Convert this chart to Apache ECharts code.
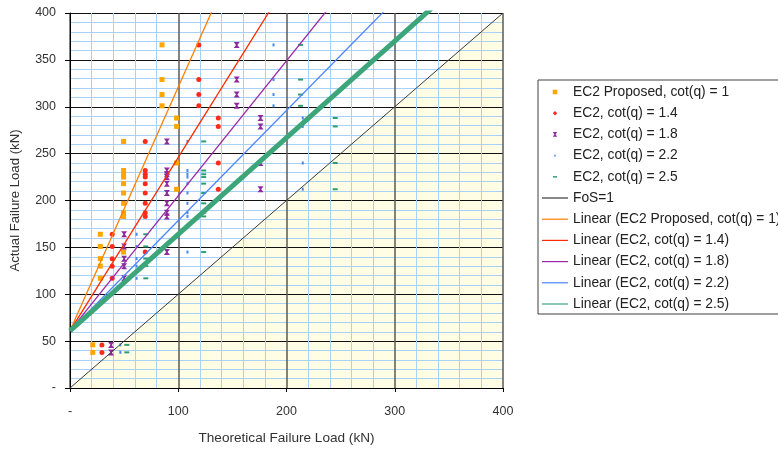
<!DOCTYPE html>
<html>
<head>
<meta charset="utf-8">
<script src="https://cdn.jsdelivr.net/npm/echarts@6/dist/echarts.min.js"></script>
<style>
  html, body { margin: 0; padding: 0; background: #fff; }
  #chart { width: 778px; height: 450px; }
</style>
</head>
<body>
<div id="chart"></div>
<script>
// Measured failure load of each specimen (kN)
const actualLoad = [366, 329, 313, 301, 288, 279, 263, 240, 232, 228, 225, 218, 212,
                    208, 197, 187, 183, 164, 151, 145, 138, 130, 117, 46, 38];

// Predicted failure load of each specimen for the strut angles checked (kN)
const theoryCot10 = [85, 85, 85, 85, 98.5, 98.5, 49.5, 98.5, 49.5, 49.5, 49.5, 49.5, 98.5,
                     49.5, 49.5, 49.5, 49.5, 28, 28, 49.5, 28, 28, 28, 21, 21];
const theoryCot14 = [119, 119, 119, 119, 137, 137, 69.5, 137, 69.5, 69.5, 69.5, 69.5, 137,
                     69.5, 69.5, 69.5, 69.5, 39, 39, 69.5, 39, 39, 39, 29.5, 29.5];
const theoryCot18 = [154, 154, 154, 154, 176, 176, 89.5, 176, 89.5, 89.5, 89.5, 89.5, 176,
                     89.5, 89.5, 89.5, 89.5, 50, 50, 89.5, 50, 50, 50, 38, 38];
const theoryCot22 = [188, 188, 188, 188, 215, 215, 108.5, 215, 108.5, 108.5, 108.5, 108.5, 215,
                     108.5, 108.5, 108.5, 108.5, 61.5, 61.5, 108.5, 61.5, 61.5, 61.5, 46.5, 46.5];
const theoryCot25 = [213, 213, 213, 213, 245, 245, 123.5, 245, 123.5, 123.5, 123.5, 123.5, 245,
                     123.5, 123.5, 123.5, 123.5, 70, 70, 123.5, 70, 70, 70, 52.5, 52.5];

// Linear trend lines (slope, common intercept in kN)
const trendSlopes = [2.6, 1.85, 1.44, 1.175, 1.03];
const trendIntercept = 61;

// Series names as shown in the legend
const scatterNames = ['EC2 Proposed, cot(q) = 1', 'EC2, cot(q) = 1.4', 'EC2, cot(q) = 1.8',
                      'EC2, cot(q) = 2.2', 'EC2, cot(q) = 2.5'];
const trendNames = ['Linear (EC2 Proposed, cot(q) = 1)', 'Linear (EC2, cot(q) = 1.4)',
                    'Linear (EC2, cot(q) = 1.8)', 'Linear (EC2, cot(q) = 2.2)',
                    'Linear (EC2, cot(q) = 2.5)'];
const fosName = 'FoS=1';
const fosLine = [[0, 0], [400, 400]];

// Axis ranges
const axisMax = 400;
const xTickStep = 100;
const yTickStep = 50;

const FONT = "'Liberation Sans', Arial, sans-serif";
const fosColor = '#3a3a3a';
const markerColors = ['#FFA500', '#FF2A1A', '#8E2A9E', '#4A86F0', '#2E9E72'];
const trendColors = ['#FF8000', '#FF2A00', '#9B27A8', '#4C84FF', '#3DA57A'];
const trendWidths = [1.3, 1.3, 1.3, 1.3, 5];
const hourglass = 'path://M0,0 L10,0 L6.2,5 L10,10 L0,10 L3.8,5 Z';
const markerSymbols = ['rect', 'circle', hourglass, 'rect', 'rect'];
const markerSizes = [5, 5, 6, [2, 3], [5, 2]];

// Legend icons: every path spans the same 26 x 5 box so the glyph keeps its own size
const BOX = 'M0,0 M26,5 ';
const legendMarkerIcons = [
  'path://' + BOX + 'M10.7,0.2 L15.3,0.2 L15.3,4.8 L10.7,4.8 Z',
  'path://' + BOX + 'M13,0.3 L15.2,2.5 L13,4.7 L10.8,2.5 Z',
  'path://' + BOX + 'M10.8,0.2 L15.2,0.2 L13.6,2.5 L15.2,4.8 L10.8,4.8 L12.4,2.5 Z',
  'path://' + BOX + 'M12.2,1.6 L13.8,1.6 L13.8,3.4 L12.2,3.4 Z',
  'path://' + BOX + 'M11,1.8 L15,1.8 L15,3.3 L11,3.3 Z'
];
const legendLineIcon = 'path://' + BOX + 'M0,1.9 L26,1.9 L26,3.1 L0,3.1 Z';

const theoryColumns = [theoryCot10, theoryCot14, theoryCot18, theoryCot22, theoryCot25];

const series = [];

// Unsafe region below FoS = 1, drawn underneath the grid lines
series.push({
  name: 'FoS region',
  type: 'line',
  data: fosLine,
  symbol: 'none',
  silent: true,
  z: -1,
  lineStyle: { width: 0, opacity: 0 },
  areaStyle: { color: '#FFFDE4', opacity: 1, origin: 'start' }
});

theoryColumns.forEach((xs, i) => {
  series.push({
    name: scatterNames[i],
    type: 'scatter',
    data: xs.map((x, k) => [x, actualLoad[k]]),
    symbol: markerSymbols[i],
    symbolSize: markerSizes[i],
    itemStyle: { color: markerColors[i], opacity: 1 },
    z: 3
  });
});

series.push({
  name: fosName,
  type: 'line',
  data: fosLine,
  symbol: 'none',
  itemStyle: { color: fosColor },
  lineStyle: { color: fosColor, width: 1 },
  z: 4
});

trendSlopes.forEach((m, i) => {
  series.push({
    name: trendNames[i],
    type: 'line',
    data: [[0, trendIntercept], [axisMax, trendIntercept + m * axisMax]],
    symbol: 'none',
    clip: true,
    itemStyle: { color: trendColors[i] },
    lineStyle: { color: trendColors[i], width: trendWidths[i] },
    z: 4
  });
});

const legendData = [
  ...scatterNames.map((n, i) => ({
    name: n, icon: legendMarkerIcons[i], itemStyle: { color: markerColors[i], borderWidth: 0 }
  })),
  { name: fosName, icon: legendLineIcon, itemStyle: { color: fosColor, borderWidth: 0 } },
  ...trendNames.map((n, i) => ({
    name: n, icon: legendLineIcon, itemStyle: { color: trendColors[i], borderWidth: 0 }
  }))
];

const labelStyle = { fontFamily: FONT, fontSize: 12.5, color: '#333' };
const dashZero = v => (v === 0 ? '-' : String(v));

const chart = echarts.init(document.getElementById('chart'), null, { renderer: 'canvas' });
chart.setOption({
  animation: false,
  backgroundColor: '#fff',
  grid: { left: 70, top: 13, width: 433, height: 378, containLabel: false },
  xAxis: {
    type: 'value', min: 0, max: axisMax, interval: xTickStep,
    name: 'Theoretical Failure Load (kN)', nameLocation: 'middle', nameGap: 43,
    nameTextStyle: { fontFamily: FONT, fontSize: 13.6, color: '#333' },
    axisLine: { show: true, onZero: false, lineStyle: { color: '#000', width: 1 } },
    axisTick: { show: true, length: 4, lineStyle: { color: '#000' } },
    axisLabel: Object.assign({ margin: 17, formatter: dashZero }, labelStyle),
    splitLine: { show: true, lineStyle: { color: '#5a5a5a', width: 1.5 } },
    minorTick: { show: false, splitNumber: 5 },
    minorSplitLine: { show: true, lineStyle: { color: '#A9D0F5', width: 1 } }
  },
  yAxis: {
    type: 'value', min: 0, max: axisMax, interval: yTickStep,
    name: 'Actual Failure Load (kN)', nameLocation: 'middle', nameGap: 48,
    nameTextStyle: { fontFamily: FONT, fontSize: 13.2, color: '#333' },
    axisLine: { show: true, onZero: false, lineStyle: { color: '#000', width: 1 } },
    axisTick: { show: true, length: 5, lineStyle: { color: '#000' } },
    axisLabel: Object.assign({ margin: 14, formatter: dashZero }, labelStyle),
    splitLine: { show: true, lineStyle: { color: '#111', width: 1.2 } },
    minorTick: { show: false, splitNumber: 5 },
    minorSplitLine: { show: true, lineStyle: { color: '#A9D0F5', width: 1 } }
  },
  legend: {
    orient: 'vertical', left: 538, top: 80,
    padding: [5, 8, 3, 4],
    borderColor: '#404040', borderWidth: 1, backgroundColor: '#fff',
    itemWidth: 26, itemHeight: 5, itemGap: 7.2,
    selectedMode: false,
    itemStyle: { borderWidth: 0 },
    textStyle: { fontFamily: FONT, fontSize: 13.8, color: '#222', lineHeight: 14 },
    data: legendData
  },
  series: series
});
</script>
</body>
</html>
